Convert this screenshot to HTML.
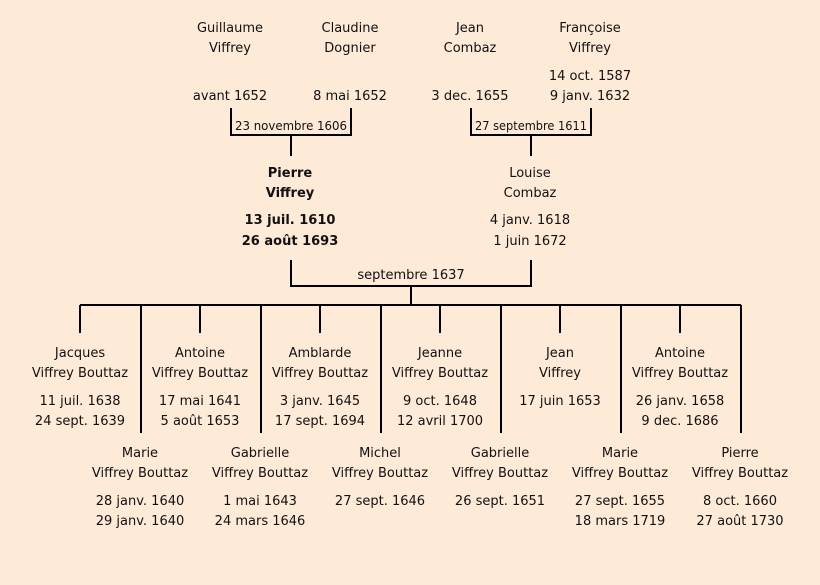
<!DOCTYPE html>
<html><head><meta charset="utf-8"><style>
html,body{margin:0;padding:0;background:#fdebd7;}
svg{display:block}
text{font-family:"DejaVu Sans","Liberation Sans",sans-serif;font-size:13px;fill:#111;text-anchor:middle}
.b{font-weight:bold}
.s{font-size:12px}
</style></head><body>
<svg width="820" height="585" viewBox="0 0 820 585">
<rect width="820" height="585" fill="#fdebd7"/>
<g stroke="#000" stroke-width="2" fill="none">
<path d="M231 108V135H351V108M291 135V156"/>
<path d="M471 108V135H591V108M531 135V156"/>
<path d="M291 260V286H531V260M411 286V305"/>
<path d="M80 305H741"/>
<path d="M80 305V333M200 305V333M320 305V333M440 305V333M560 305V333M680 305V333"/>
<path d="M141 305V433M261 305V433M381 305V433M501 305V433M621 305V433M741 305V433"/>
</g>
<text x="230" y="32">Guillaume</text><text x="230" y="52">Viffrey</text><text x="230" y="100">avant 1652</text>
<text x="350" y="32">Claudine</text><text x="350" y="52">Dognier</text><text x="350" y="100">8 mai 1652</text>
<text x="470" y="32">Jean</text><text x="470" y="52">Combaz</text><text x="470" y="100">3 dec. 1655</text>
<text x="590" y="32">Françoise</text><text x="590" y="52">Viffrey</text><text x="590" y="80">14 oct. 1587</text><text x="590" y="100">9 janv. 1632</text>
<text class="s" x="291" y="130" textLength="112" lengthAdjust="spacingAndGlyphs">23 novembre 1606</text>
<text class="s" x="531" y="130" textLength="112" lengthAdjust="spacingAndGlyphs">27 septembre 1611</text>
<text class="b" x="290" y="177">Pierre</text><text class="b" x="290" y="197">Viffrey</text><text class="b" x="290" y="224">13 juil. 1610</text><text class="b" x="290" y="245">26 août 1693</text>
<text x="530" y="177">Louise</text><text x="530" y="197">Combaz</text><text x="530" y="224">4 janv. 1618</text><text x="530" y="245">1 juin 1672</text>
<text x="411" y="279">septembre 1637</text>
<g>
<text x="80" y="357">Jacques</text><text x="80" y="377">Viffrey Bouttaz</text><text x="80" y="405">11 juil. 1638</text><text x="80" y="425">24 sept. 1639</text>
<text x="200" y="357">Antoine</text><text x="200" y="377">Viffrey Bouttaz</text><text x="200" y="405">17 mai 1641</text><text x="200" y="425">5 août 1653</text>
<text x="320" y="357">Amblarde</text><text x="320" y="377">Viffrey Bouttaz</text><text x="320" y="405">3 janv. 1645</text><text x="320" y="425">17 sept. 1694</text>
<text x="440" y="357">Jeanne</text><text x="440" y="377">Viffrey Bouttaz</text><text x="440" y="405">9 oct. 1648</text><text x="440" y="425">12 avril 1700</text>
<text x="560" y="357">Jean</text><text x="560" y="377">Viffrey</text><text x="560" y="405">17 juin 1653</text>
<text x="680" y="357">Antoine</text><text x="680" y="377">Viffrey Bouttaz</text><text x="680" y="405">26 janv. 1658</text><text x="680" y="425">9 dec. 1686</text>
<text x="140" y="457">Marie</text><text x="140" y="477">Viffrey Bouttaz</text><text x="140" y="505">28 janv. 1640</text><text x="140" y="525">29 janv. 1640</text>
<text x="260" y="457">Gabrielle</text><text x="260" y="477">Viffrey Bouttaz</text><text x="260" y="505">1 mai 1643</text><text x="260" y="525">24 mars 1646</text>
<text x="380" y="457">Michel</text><text x="380" y="477">Viffrey Bouttaz</text><text x="380" y="505">27 sept. 1646</text>
<text x="500" y="457">Gabrielle</text><text x="500" y="477">Viffrey Bouttaz</text><text x="500" y="505">26 sept. 1651</text>
<text x="620" y="457">Marie</text><text x="620" y="477">Viffrey Bouttaz</text><text x="620" y="505">27 sept. 1655</text><text x="620" y="525">18 mars 1719</text>
<text x="740" y="457">Pierre</text><text x="740" y="477">Viffrey Bouttaz</text><text x="740" y="505">8 oct. 1660</text><text x="740" y="525">27 août 1730</text>
</g>
</svg>
</body></html>
